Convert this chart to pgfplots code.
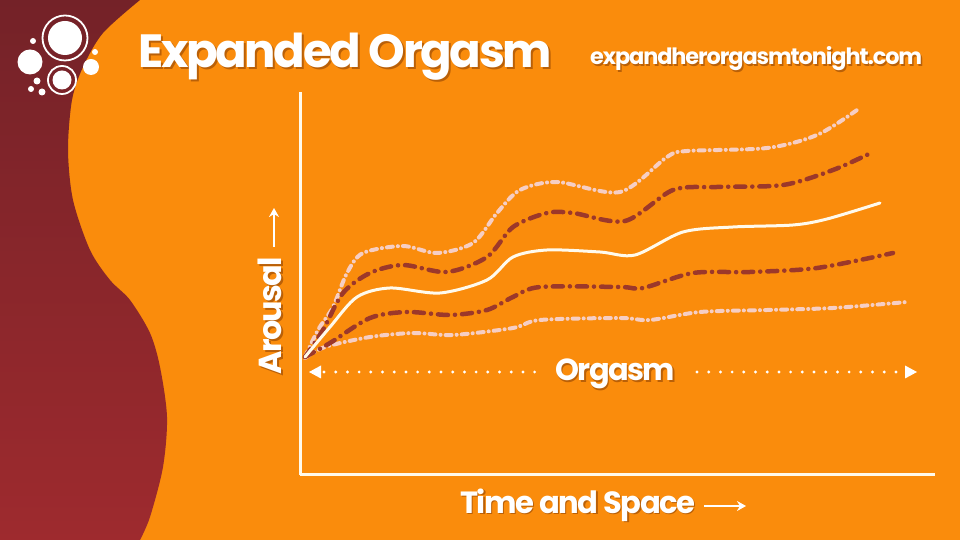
\documentclass[border=0pt]{standalone}
\usepackage{pgfplots}
\pgfplotsset{compat=1.18}
\usepackage{fontspec}
\setmainfont{Poppins}
\newfontfamily\pop{Poppins}[LetterSpace=-5]
\usetikzlibrary{arrows.meta,shadings}
\definecolor{bgor}{RGB}{250,140,12}
\definecolor{maroonT}{RGB}{116,34,40}
\definecolor{maroonB}{RGB}{158,42,46}
\definecolor{dred}{RGB}{156,56,42}
\definecolor{pinkl}{RGB}{246,206,196}
\definecolor{cream}{RGB}{255,250,236}
\definecolor{shad}{RGB}{90,30,0}
\begin{document}
\begin{tikzpicture}[x=1pt,y=1pt]
\fill[bgor] (0,0) rectangle (960,540);
\shade[top color=maroonT, bottom color=maroonB] (0,0) -- (140,0) -- plot[smooth] coordinates {(140,0) (150,23) (163,73) (167,123) (160,173) (150,207) (130,240) (110,260) (90,290) (73,340) (68,390) (72,440) (83,473) (103,507) (140,540)} -- (0,540) -- cycle;
% logo
\fill[white] (65,502) circle (17);
\draw[white, line width=1.8pt] (65,502) circle (22.5);
\fill[white] (62,460) circle (9.5);
\draw[white, line width=1.8pt] (62,460) circle (14);
\fill[white] (30,478) circle (12.5);
\fill[white] (91,473) circle (8);
\fill[white] (33,499) circle (3);
\fill[white] (95,488) circle (3);
\fill[white] (37,459) circle (3.5);
\fill[white] (31,451) circle (3);
\fill[white] (42,448) circle (3.5);
% titles (with drop shadows)
\node[anchor=base west, inner sep=0, text=shad, opacity=0.4] at (140,470) {\resizebox{414pt}{!}{\pop\bfseries Expanded Orgasm}};
\node[anchor=base west, inner sep=0, text=white] at (138,472) {\resizebox{414pt}{!}{\pop\bfseries Expanded Orgasm}};
\node[anchor=base west, inner sep=0, text=shad, opacity=0.4] at (591.5,473) {\resizebox{332pt}{!}{\pop\bfseries expandherorgasmtonight.com}};
\node[anchor=base west, inner sep=0, text=white] at (590,475) {\resizebox{332pt}{!}{\pop\bfseries expandherorgasmtonight.com}};
% axis labels
\node[anchor=base west, inner sep=0, text=shad, opacity=0.4] at (461.5,25) {\resizebox{235pt}{!}{\pop\bfseries Time and Space}};
\node[anchor=base west, inner sep=0, text=white] at (460,27) {\resizebox{235pt}{!}{\pop\bfseries Time and Space}};
\draw[white, line width=2.5pt, -{Stealth[length=9pt,width=10pt]}] (704,34) -- (746,34);
\node[anchor=base west, inner sep=0, rotate=90, text=shad, opacity=0.4] at (283,163) {\resizebox{118pt}{!}{\pop\bfseries Arousal}};
\node[anchor=base west, inner sep=0, rotate=90, text=white] at (281,165) {\resizebox{118pt}{!}{\pop\bfseries Arousal}};
\draw[white, line width=2.5pt, -{Stealth[length=9pt,width=10pt]}] (274,293) -- (274,332);
% orgasm range
\node[anchor=base west, inner sep=0, text=shad, opacity=0.4] at (556.5,157) {\resizebox{120pt}{!}{\pop\bfseries Orgasm}};
\node[anchor=base west, inner sep=0, text=white] at (555,159) {\resizebox{120pt}{!}{\pop\bfseries Orgasm}};
\draw[white, line width=3.2pt, line cap=round, dash pattern=on 0pt off 11.7pt] (324,168) -- (536,168);
\draw[white, line width=3.2pt, line cap=round, dash pattern=on 0pt off 11.7pt] (697,168) -- (903,168);
\fill[white] (309,168) -- (321,174.5) -- (321,161.5) -- cycle;
\fill[white] (917,168) -- (905,174.5) -- (905,161.5) -- cycle;
\begin{axis}[at={(300pt,65pt)}, anchor=origin,
  width=635pt, height=383pt, scale only axis,
  xmin=0, xmax=635, ymin=0, ymax=383,
  axis x line=bottom, axis y line=left,
  axis line style={-, cream, line width=3pt},
  ticks=none, clip=false]
% lower pink
\addplot[pinkl, line width=4pt, line cap=round, dash pattern=on 6pt off 5pt on 0.1pt off 5pt, smooth] coordinates {(5,117) (25,128) (70,138) (113,142) (153,140) (213,147) (240,155) (320,157) (350,155) (400,163) (467,165) (533,167) (607,173)};
% upper pink
\addplot[pinkl, line width=4pt, line cap=round, dash pattern=on 6pt off 5pt on 0.1pt off 5pt, smooth] coordinates {(5,118) (18,145) (33,168) (47,202) (63,222) (103,229) (137,222) (173,232) (197,262) (220,285) (257,293) (320,283) (367,318) (387,324) (467,327) (517,340) (557,365)};
% lower dark red
\addplot[dred, line width=4.5pt, line cap=round, dash pattern=on 10pt off 7pt on 0.1pt off 7pt, smooth] coordinates {(5,118) (30,132) (70,157) (107,163) (150,160) (187,165) (213,178) (240,188) (320,188) (343,187) (393,202) (450,203) (517,207) (593,222)};
% upper dark red
\addplot[dred, line width=4.5pt, line cap=round, dash pattern=on 10pt off 7pt on 0.1pt off 7pt, smooth] coordinates {(5,118) (23,145) (43,182) (70,202) (103,210) (147,203) (187,218) (213,248) (247,262) (273,262) (325,254) (373,285) (417,288) (483,290) (533,305) (573,323)};
% white
\addplot[cream, line width=3pt, line cap=round, smooth] coordinates {(5,118) (30,148) (57,178) (90,187) (140,182) (187,195) (213,218) (247,225) (300,223) (335,220) (383,243) (433,248) (493,250) (527,256) (580,272)};
\end{axis}
\end{tikzpicture}
\end{document}
